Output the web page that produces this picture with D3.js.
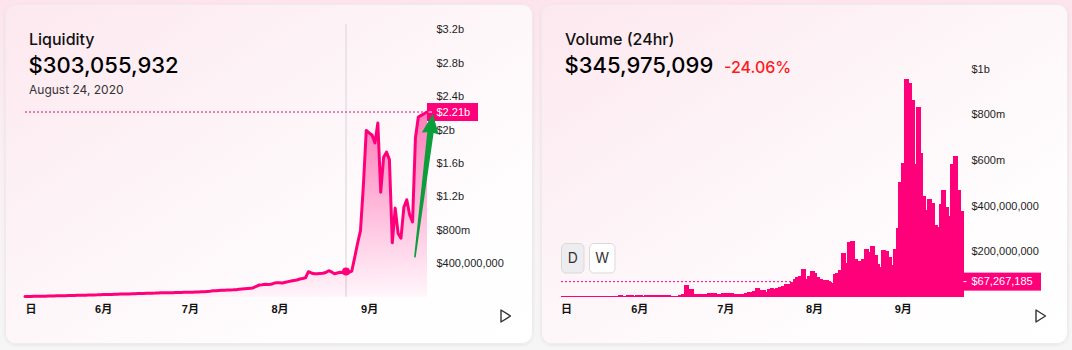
<!DOCTYPE html>
<html><head><meta charset="utf-8">
<script src="https://cdn.jsdelivr.net/npm/d3@7"></script>
<style>
html,body{margin:0;padding:0;width:1072px;height:350px;overflow:hidden;background:#f7f7f7;}
svg{display:block;}
</style></head><body>
<svg id="c" width="1072" height="350"></svg>
<script>
// ---------- DATA ----------
const startDate = new Date(2020, 4, 5); // first day of both series (daily)
// Liquidity, millions USD, daily from May 5 2020
const liquidity = [
  2, 3, 3, 4, 4, 5, 6, 6, 7, 8, 9, 10, 11, 11, 12, 13, 14, 15, 16, 16, 17, 18, 19, 20, 21, 22, 24,
  25, 26, 26, 27, 29, 30, 31, 32, 33, 33, 35, 36, 37, 38, 38, 40, 41, 42, 43, 45, 46, 46, 47, 48, 48, 49, 50, 51, 52, 52,
  53, 54, 56, 55, 58, 60, 63, 66, 70, 72, 75, 77, 78, 80, 81, 82, 84, 88, 92, 96, 99, 100, 108, 125, 140, 143, 148, 147, 149, 160, 168,
  166, 164, 172, 180, 188, 194, 200, 212, 218, 227, 299, 284, 275, 276, 278, 280, 290, 311, 296, 275, 284, 292, 290, 303.06, 292, 307, 470, 640, 790, 1330, 1990,
  1960, 1935, 1840, 2080, 1250, 1670, 1730, 1640, 645, 1060, 760, 700, 1070, 1160, 980, 895, 1900, 2150, 2170, 2190, 2210
];
// Volume (24hr), millions USD, daily from May 5 2020
const volume = [
  3, 3, 4, 4, 4, 5, 4, 5, 5, 4, 5, 5, 6, 5, 5, 6, 6, 5, 6, 6, 7, 6, 6, 7, 7, 6, 7, 7, 6, 7, 7, 8, 7, 7, 8,
  9, 10, 9, 6, 5, 6, 10, 11, 54, 36, 34,
  12, 14, 15, 14, 13, 17, 18, 16, 13, 14, 17, 16, 18, 17, 14, 13, 15, 14, 19, 21, 20, 25,
  38, 30, 31, 24, 36, 40, 35, 38, 45, 48, 56, 57,
  64, 80, 86, 92, 122, 78, 92, 112, 104, 89, 80, 76, 74, 67, 63, 102, 105, 118, 192, 150,
  242, 246, 168, 153, 157, 165, 209, 198, 223, 184, 144, 130, 206, 203, 176, 140, 210, 301, 505, 585,
  954, 938, 862, 582, 830, 629, 442, 381, 430, 413, 316, 308, 407, 468, 395, 355, 582, 617, 468, 378
];
const monthTicks = [new Date(2020,4,5), new Date(2020,5,1), new Date(2020,6,1), new Date(2020,7,1), new Date(2020,8,1)];
const monthLabels = ["日", "6月", "7月", "8月", "9月"];
const liqTicks = [4e8, 8e8, 1.2e9, 1.6e9, 2e9, 2.4e9, 2.8e9, 3.2e9];
const liqTickLabels = ["$400,000,000", "$800m", "$1.2b", "$1.6b", "$2b", "$2.4b", "$2.8b", "$3.2b"];
const volTicks = [2e8, 4e8, 6e8, 8e8, 1e9];
const volTickLabels = ["$200,000,000", "$400,000,000", "$600m", "$800m", "$1b"];
const hoverDate = new Date(2020, 7, 24);
const hoverLiquidity = 303055932;
const liqMarker = 2.21e9, liqMarkerLabel = "$2.21b";
const volMarker = 67267185, volMarkerLabel = "$67,267,185";
// green hand-drawn arrow annotation, in data units: [day offset, value]
const arrowTail = [134.8, 0.47e9], arrowTip = [141.0, 2.19e9];

// ---------- SETUP ----------
const svg = d3.select('#c');
const defs = svg.append('defs');
const PINK = '#ff007a';
const liqData = liquidity.map((v, i) => ({date: d3.timeDay.offset(startDate, i), v: v * 1e6}));
const volData = volume.map((v, i) => ({date: d3.timeDay.offset(startDate, i), v: v * 1e6}));

const pg = defs.append('linearGradient').attr('id', 'pageBg').attr('x1', 0).attr('y1', 0).attr('x2', 0).attr('y2', 1);
pg.append('stop').attr('offset', 0).attr('stop-color', '#fde4ed');
pg.append('stop').attr('offset', 0.45).attr('stop-color', '#faf0f3');
pg.append('stop').attr('offset', 1).attr('stop-color', '#f6f6f6');
svg.append('rect').attr('width', 1072).attr('height', 350).attr('fill', 'url(#pageBg)');

const cg = defs.append('linearGradient').attr('id', 'cardBg').attr('x1', 0).attr('y1', 0).attr('x2', 1).attr('y2', 1);
cg.append('stop').attr('offset', 0).attr('stop-color', '#fde8ef');
cg.append('stop').attr('offset', 0.4).attr('stop-color', '#fdf4f7');
cg.append('stop').attr('offset', 0.75).attr('stop-color', '#fffdfe');
cg.append('stop').attr('offset', 1).attr('stop-color', '#ffffff');

const sh = defs.append('filter').attr('id', 'shadow').attr('x', '-5%').attr('y', '-5%').attr('width', '110%').attr('height', '110%');
sh.append('feDropShadow').attr('dx', 0).attr('dy', 1).attr('stdDeviation', 1.5).attr('flood-color', '#000').attr('flood-opacity', 0.07);

const ag = defs.append('linearGradient').attr('id', 'areaGrad').attr('x1', 0).attr('y1', 0).attr('x2', 0).attr('y2', 1);
ag.append('stop').attr('offset', 0).attr('stop-color', PINK).attr('stop-opacity', 0.5);
ag.append('stop').attr('offset', 1).attr('stop-color', PINK).attr('stop-opacity', 0.03);

[[5.5, 527], [541.5, 526]].forEach(([x, w]) => {
  svg.append('rect').attr('x', x).attr('y', 4.5).attr('width', w).attr('height', 339).attr('rx', 10)
    .attr('fill', 'url(#cardBg)').attr('stroke', '#efeaec').attr('stroke-width', 1).attr('filter', 'url(#shadow)');
});

const HF = 'Inter, "Noto Sans", sans-serif';
const AF = '"Liberation Sans", Arial, "Noto Sans CJK SC", sans-serif';

// ---------- LEFT: LIQUIDITY ----------
const xL = d3.scaleTime().domain([liqData[0].date, liqData[liqData.length - 1].date]).range([25, 427]);
const yL = d3.scaleLinear().domain([0, 3.2e9]).range([296.7, 29.3]);
const L = svg.append('g');

// hover line
L.append('line').attr('x1', xL(hoverDate)).attr('x2', xL(hoverDate)).attr('y1', yL(3.26e9)).attr('y2', yL(0))
  .attr('stroke', '#e6dee1').attr('stroke-width', 1.5);

L.append('path').datum(liqData).attr('fill', 'url(#areaGrad)')
  .attr('d', d3.area().x(d => xL(d.date)).y0(yL(0)).y1(d => yL(d.v)));
L.append('path').datum(liqData).attr('fill', 'none').attr('stroke', PINK).attr('stroke-width', 3)
  .attr('stroke-linejoin', 'round').attr('stroke-linecap', 'round')
  .attr('d', d3.line().x(d => xL(d.date)).y(d => yL(d.v)));
L.append('circle').attr('cx', xL(hoverDate)).attr('cy', yL(hoverLiquidity)).attr('r', 4).attr('fill', PINK);

// marker dotted line + label
L.append('line').attr('x1', xL.range()[0]).attr('x2', xL.range()[1]).attr('y1', yL(liqMarker)).attr('y2', yL(liqMarker))
  .attr('stroke', PINK).attr('stroke-width', 1).attr('stroke-dasharray', '2,2');

// y axis
const axL = d3.axisRight(yL).tickValues(liqTicks).tickFormat((d, i) => liqTickLabels[i]).tickSize(0).tickPadding(0);
const gyL = L.append('g').attr('transform', 'translate(436.5,0)').call(axL);
gyL.select('.domain').remove();
gyL.selectAll('text').attr('font-family', AF).attr('font-size', 11).attr('fill', '#1e1e1e').attr('x', 0);

L.append('rect').attr('x', xL.range()[1]).attr('y', yL(liqMarker) - 9).attr('width', 51).attr('height', 18).attr('fill', PINK);
L.append('line').attr('x1', xL.range()[1] + 1.5).attr('x2', xL.range()[1] + 5).attr('y1', yL(liqMarker)).attr('y2', yL(liqMarker))
  .attr('stroke', '#fff').attr('stroke-width', 1);
L.append('text').attr('x', 436.5).attr('y', yL(liqMarker)).attr('dy', '0.35em').attr('font-family', AF).attr('font-size', 11)
  .attr('fill', '#fff').text(liqMarkerLabel);

// x axis
const axXL = d3.axisBottom(xL).tickValues(monthTicks).tickFormat((d, i) => monthLabels[i]).tickSize(0).tickPadding(0);
const gxL = L.append('g').attr('transform', 'translate(0,305)').call(axXL);
gxL.select('.domain').remove();
gxL.selectAll('text').attr('font-family', AF).attr('font-size', 11).attr('font-weight', 'bold').attr('fill', '#111')
  .attr('dy', '0.71em').attr('text-anchor', (d, i) => i === 0 ? 'start' : 'middle');

// green arrow
(function () {
  const step = (xL.range()[1] - xL.range()[0]) / (liqData.length - 1);
  const tx = xL.range()[0] + arrowTail[0] * step;
  const ty = yL(arrowTail[1]);
  const hx = xL.range()[0] + arrowTip[0] * step;
  const hy = yL(arrowTip[1]);
  const ang = Math.atan2(hy - ty, hx - tx);
  const len = Math.hypot(hx - tx, hy - ty);
  const pts = [[0, -0.8], [len - 19, -3.2], [len - 20, -8.5], [len, 0], [len - 20, 8.5], [len - 19, 3.2], [0, 0.8]];
  const p = pts.map(([a, b]) => [tx + a * Math.cos(ang) - b * Math.sin(ang), ty + a * Math.sin(ang) + b * Math.cos(ang)]);
  L.append('path').attr('d', d3.line()(p) + 'Z').attr('fill', '#0b9e3a');
})();

// header
L.append('text').attr('x', 29).attr('y', 45).attr('font-family', HF).attr('font-size', 16).attr('font-weight', 500).attr('fill', '#111').text('Liquidity');
L.append('text').attr('x', 28.5).attr('y', 73).attr('font-family', HF).attr('font-size', 22).attr('font-weight', 500).attr('fill', '#000').text('$303,055,932');
L.append('text').attr('x', 29).attr('y', 94).attr('font-family', HF).attr('font-size', 12).attr('fill', '#333').text('August 24, 2020');

// play icon
L.append('path').attr('d', 'M501,310 L501,322 L510.5,316 Z').attr('fill', 'none').attr('stroke', '#333').attr('stroke-width', 1.4).attr('stroke-linejoin', 'round');

// ---------- RIGHT: VOLUME ----------
const xR = d3.scaleBand().domain(volData.map(d => d.date)).range([561, 962]).padding(0);
const yR = d3.scaleLinear().domain([0, 1e9]).range([297, 68.5]);
const R = svg.append('g');

R.append('g').attr('shape-rendering', 'crispEdges').selectAll('rect').data(volData).join('rect')
  .attr('x', d => Math.floor(xR(d.date))).attr('width', d => Math.ceil(xR(d.date) + xR.bandwidth()) - Math.floor(xR(d.date)) + 1)
  .attr('y', d => yR(d.v)).attr('height', d => yR(0) - yR(d.v)).attr('fill', PINK);

R.append('line').attr('x1', xR.range()[0]).attr('x2', xR.range()[1]).attr('y1', yR(volMarker)).attr('y2', yR(volMarker))
  .attr('stroke', PINK).attr('stroke-width', 1).attr('stroke-dasharray', '2,2');

const axR = d3.axisRight(yR).tickValues(volTicks).tickFormat((d, i) => volTickLabels[i]).tickSize(0).tickPadding(0);
const gyR = R.append('g').attr('transform', 'translate(971.5,0)').call(axR);
gyR.select('.domain').remove();
gyR.selectAll('text').attr('font-family', AF).attr('font-size', 11).attr('fill', '#1e1e1e').attr('x', 0);

R.append('rect').attr('x', xR.range()[1]).attr('y', yR(volMarker) - 9).attr('width', 79).attr('height', 18).attr('fill', PINK);
R.append('line').attr('x1', xR.range()[1] + 1.5).attr('x2', xR.range()[1] + 4.5).attr('y1', yR(volMarker)).attr('y2', yR(volMarker))
  .attr('stroke', '#fff').attr('stroke-width', 1);
R.append('text').attr('x', 971.5).attr('y', yR(volMarker)).attr('dy', '0.35em').attr('font-family', AF).attr('font-size', 11)
  .attr('fill', '#fff').text(volMarkerLabel);

const axXR = d3.axisBottom(xR).tickValues(monthTicks).tickFormat((d, i) => monthLabels[i]).tickSize(0).tickPadding(0);
const gxR = R.append('g').attr('transform', 'translate(0,305)').call(axXR);
gxR.select('.domain').remove();
gxR.selectAll('.tick').attr('transform', (d, i) => `translate(${i === 0 ? xR(d) : xR(d) + xR.bandwidth() / 2},0)`);
gxR.selectAll('text').attr('font-family', AF).attr('font-size', 11).attr('font-weight', 'bold').attr('fill', '#111')
  .attr('dy', '0.71em').attr('text-anchor', (d, i) => i === 0 ? 'start' : 'middle');

// header
R.append('text').attr('x', 565).attr('y', 44.5).attr('font-family', HF).attr('font-size', 16).attr('font-weight', 500).attr('fill', '#111').text('Volume (24hr)');
R.append('text').attr('x', 564.5).attr('y', 73).attr('font-family', HF).attr('font-size', 22).attr('font-weight', 500).attr('fill', '#000').text('$345,975,099');
R.append('text').attr('x', 724).attr('y', 73).attr('font-family', HF).attr('font-size', 16).attr('font-weight', 500).attr('fill', '#ff1a1a').text('-24.06%');

// D / W buttons
[['D', 561.5, 22.5, '#ededef'], ['W', 589.5, 25.5, '#ffffff']].forEach(([t, x, w, f]) => {
  R.append('rect').attr('x', x).attr('y', 243.5).attr('width', w).attr('height', 29.5).attr('rx', 4.5)
    .attr('fill', f).attr('stroke', '#d9d9dc').attr('stroke-width', 1);
  R.append('text').attr('x', x + w / 2).attr('y', 263).attr('text-anchor', 'middle').attr('font-family', HF)
    .attr('font-size', 14).attr('fill', '#333').text(t);
});

R.append('path').attr('d', 'M1036,310 L1036,322 L1045.5,316 Z').attr('fill', 'none').attr('stroke', '#333').attr('stroke-width', 1.4).attr('stroke-linejoin', 'round');
</script>
</body></html>
